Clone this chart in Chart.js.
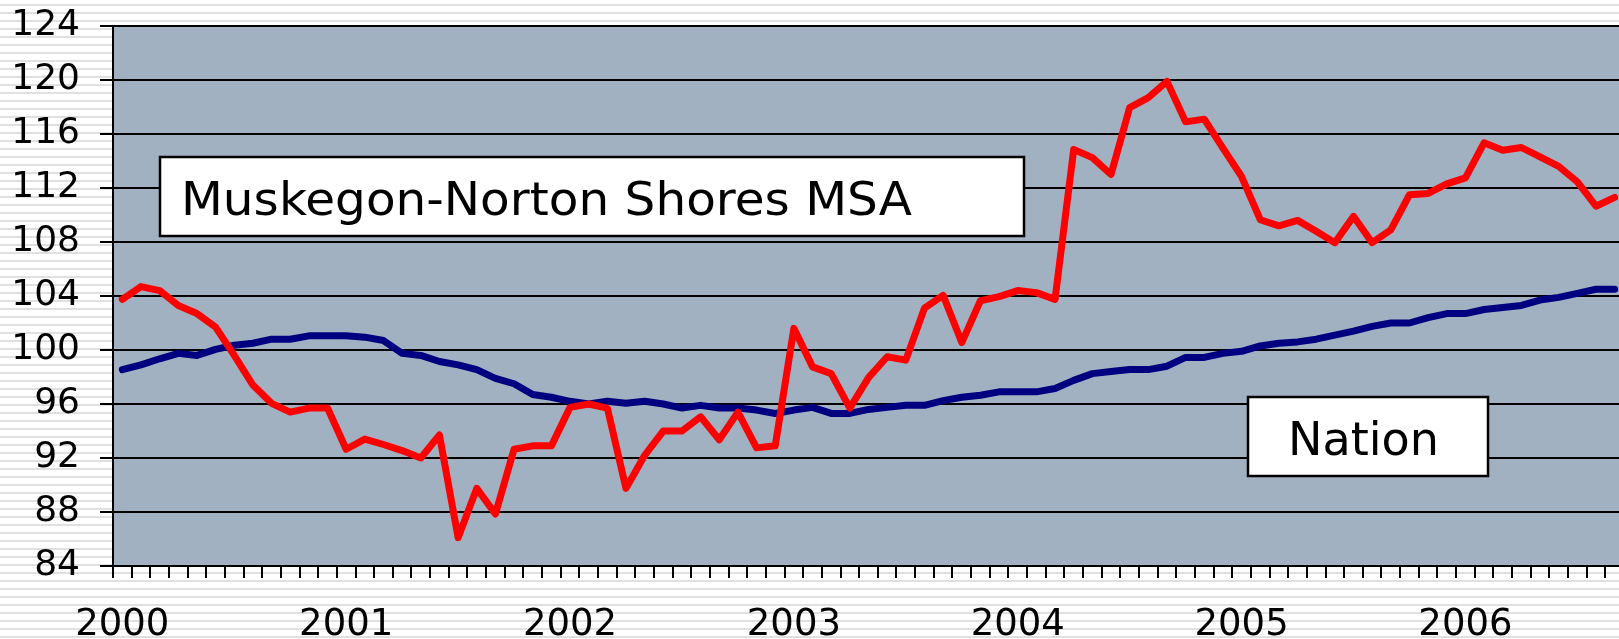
<!DOCTYPE html>
<html>
<head>
<meta charset="utf-8">
<script src="https://cdn.jsdelivr.net/npm/chart.js@4.4.1/dist/chart.umd.min.js"></script>
<style>
html, body { margin: 0; padding: 0; overflow: hidden; width: 1619px; height: 639px; }
body {
  background: repeating-linear-gradient(to bottom, #ffffff 0px, #ffffff 4px, #e0e0e0 4px, #e0e0e0 6px, #ffffff 6px, #ffffff 8px);
}
canvas { display: block; }
</style>
</head>
<body>
<canvas id="c" width="1624" height="639"></canvas>
<script>
// ---- data ----
const years = ['2000', '2001', '2002', '2003', '2004', '2005', '2006'];
const monthNames = ['Jan','Feb','Mar','Apr','May','Jun','Jul','Aug','Sep','Oct','Nov','Dec'];
const yTickValues = [84, 88, 92, 96, 100, 104, 108, 112, 116, 120, 124];

const muskegon = [
  103.75, 104.7, 104.4, 103.3, 102.7, 101.7, 99.6, 97.4, 96.05, 95.4, 95.7, 95.7,
  92.65, 93.4, 93.0, 92.55, 92.0, 93.7, 86.1, 89.75, 87.85, 92.65, 92.9, 92.9,
  95.75, 96.0, 95.7, 89.75, 92.2, 94.0, 94.0, 95.05, 93.35, 95.4, 92.75, 92.9,
  101.6, 98.75, 98.25, 95.7, 97.95, 99.5, 99.25, 103.1, 104.05, 100.55, 103.65, 103.95,
  104.4, 104.25, 103.75, 114.85, 114.25, 113.0, 117.95, 118.7, 119.9, 116.9, 117.1, 114.95,
  112.85, 109.65, 109.2, 109.6, 108.8, 107.95, 109.9, 107.95, 108.9, 111.5, 111.6, 112.3,
  112.75, 115.35, 114.8, 115.0, 114.3, 113.6, 112.45, 110.65, 111.3
];
const nation = [
  98.55, 98.9, 99.35, 99.75, 99.6, 100.05, 100.35, 100.5, 100.8, 100.8, 101.05, 101.05,
  101.05, 100.95, 100.7, 99.75, 99.6, 99.15, 98.9, 98.55, 97.9, 97.5, 96.7, 96.5,
  96.2, 96.0, 96.2, 96.05, 96.2, 96.0, 95.7, 95.9, 95.7, 95.7, 95.55, 95.3,
  95.55, 95.75, 95.3, 95.3, 95.6, 95.75, 95.9, 95.9, 96.25, 96.5, 96.65, 96.9,
  96.9, 96.9, 97.15, 97.75, 98.25, 98.4, 98.55, 98.55, 98.8, 99.45, 99.45, 99.75,
  99.9, 100.3, 100.5, 100.6, 100.8, 101.1, 101.4, 101.75, 102.0, 102.0, 102.4, 102.7,
  102.7, 103.0, 103.15, 103.3, 103.7, 103.9, 104.2, 104.5, 104.5
];
const seriesNames = ['Muskegon-Norton Shores MSA', 'Nation'];

// month categories: Jan 2000 .. Sep 2006
const categories = [];
years.forEach(y => monthNames.forEach(m => categories.push(m + ' ' + y)));
categories.length = muskegon.length;

Chart.defaults.font.family = "'DejaVu Sans', Verdana, sans-serif";
Chart.defaults.color = '#000';

const plotBg = {
  id: 'plotBg',
  beforeDraw(chart) {
    const { ctx, chartArea: a } = chart;
    ctx.save();
    ctx.fillStyle = '#A2B1C1';
    ctx.fillRect(a.left, a.top, a.right - a.left, a.bottom - a.top);
    ctx.restore();
  }
};

const labelBoxes = {
  id: 'labelBoxes',
  afterDatasetsDraw(chart) {
    const { ctx, chartArea: a } = chart;
    const boxes = [
      { text: seriesNames[0], x: a.left + 47, y: a.top + 131, w: 864, h: 79, tx: 21, ty: 58, tw: 731 },
      { text: seriesNames[1], x: a.left + 1135, y: a.top + 371, w: 240, h: 79, tx: 40, ty: 58, tw: 151 }
    ];
    ctx.save();
    ctx.font = "46px 'DejaVu Sans'";
    ctx.textBaseline = 'alphabetic';
    ctx.textAlign = 'left';
    boxes.forEach(b => {
      ctx.fillStyle = '#fff';
      ctx.fillRect(b.x, b.y, b.w, b.h);
      ctx.lineWidth = 2.5;
      ctx.strokeStyle = '#000';
      ctx.strokeRect(b.x, b.y, b.w, b.h);
      ctx.fillStyle = '#000';
      const mw = ctx.measureText(b.text).width;
      const sx = b.tw / mw;
      ctx.save();
      ctx.translate(b.x + b.tx, b.y + b.ty);
      ctx.scale(sx, 1);
      ctx.fillText(b.text, 0, 0);
      ctx.restore();
    });
    ctx.restore();
  }
};

new Chart(document.getElementById('c'), {
  type: 'line',
  data: {
    labels: categories,
    datasets: [
      {
        label: seriesNames[0],
        data: muskegon,
        borderColor: '#FF0000',
        borderWidth: 7,
        pointRadius: 0,
        tension: 0,
        borderJoinStyle: 'round',
        borderCapStyle: 'round'
      },
      {
        label: seriesNames[1],
        data: nation,
        borderColor: '#000080',
        borderWidth: 7,
        pointRadius: 0,
        tension: 0,
        borderJoinStyle: 'round',
        borderCapStyle: 'round'
      }
    ]
  },
  options: {
    responsive: false,
    animation: false,
    devicePixelRatio: 1,
    layout: { padding: { top: 26, left: 0, right: 0, bottom: 0 } },
    plugins: { legend: { display: false }, tooltip: { enabled: false } },
    events: [],
    scales: {
      x: {
        type: 'category',
        offset: true,
        grid: {
          offset: true,
          drawOnChartArea: false,
          drawTicks: true,
          tickLength: 12,
          color: '#000',
          lineWidth: 2
        },
        border: { display: true, color: '#000', width: 2 },
        ticks: {
          autoSkip: false,
          maxRotation: 0,
          minRotation: 0,
          padding: 25,
          font: { size: 37 },
          color: '#000',
          callback: function (value, index) {
            return index % 12 === 0 ? years[index / 12] : '';
          }
        },
        afterFit(scale) {
          scale.height = 73;
          scale.paddingLeft = 0;
          scale.paddingRight = 0;
        }
      },
      y: {
        min: yTickValues[0],
        max: yTickValues[yTickValues.length - 1],
        afterBuildTicks(scale) { scale.ticks = yTickValues.map(v => ({ value: v })); },
        grid: {
          color: '#000',
          lineWidth: 2,
          drawTicks: true,
          tickLength: 13
        },
        border: { display: true, color: '#000', width: 2 },
        ticks: {
          padding: 20,
          font: { size: 36 },
          color: '#000'
        },
        afterFit(scale) {
          scale.width = 113;
          scale.paddingTop = 0;
          scale.paddingBottom = 0;
        }
      }
    }
  },
  plugins: [plotBg, labelBoxes]
});
</script>
</body>
</html>
